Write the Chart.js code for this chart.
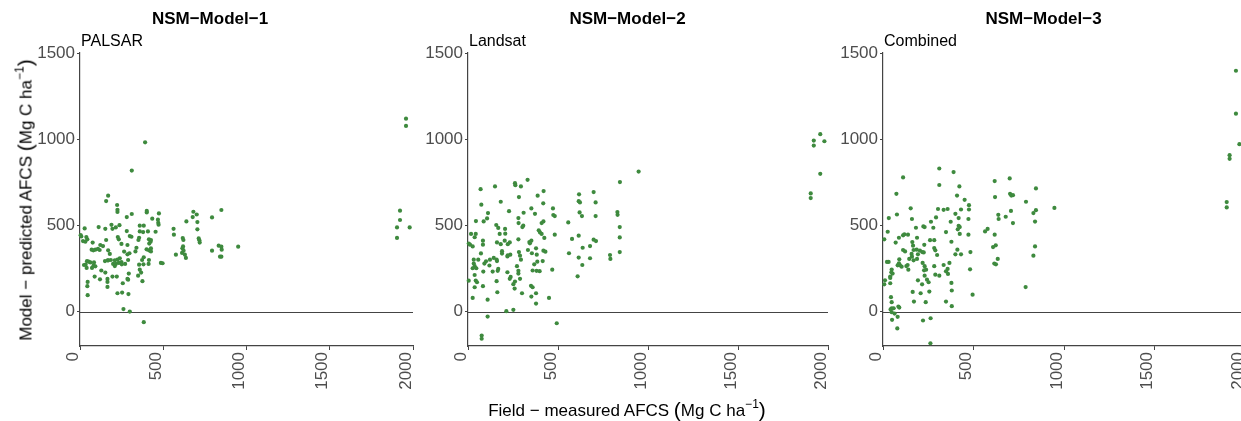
<!DOCTYPE html>
<html><head><meta charset="utf-8">
<script src="https://cdn.jsdelivr.net/npm/chart.js@4"></script>
<style>
html,body{margin:0;padding:0;width:1241px;height:421px;overflow:hidden;background:#fff;position:relative;}
canvas{position:absolute;top:0;}
.lab{position:absolute;font-family:'Liberation Sans',Arial,Helvetica,sans-serif;font-size:17px;color:#000;white-space:nowrap;line-height:22px;}
.lab .par{font-size:21px;position:relative;top:1px;}
.lab sup{font-size:12px;vertical-align:0;position:relative;top:-8px;}
#ytitle{left:26px;top:200px;transform:translate(-50%,-50%) rotate(-90deg);}
#xtitle{left:627px;top:398px;transform:translateX(-50%);}
</style></head><body>
<canvas id="c1" width="420" height="421" style="left:0px"></canvas>
<canvas id="c2" width="415" height="421" style="left:420px"></canvas>
<canvas id="c3" width="417" height="421" style="left:835px"></canvas>
<div class="lab" id="ytitle">Model − predicted AFCS <span class="par">(</span>Mg C ha<sup>−1</sup><span class="par">)</span></div>
<div class="lab" id="xtitle">Field − measured AFCS <span class="par">(</span>Mg C ha<sup>−1</sup><span class="par">)</span></div>
<script>
// ---- text / ticks ----
const panelTitles = ['NSM−Model−1', 'NSM−Model−2', 'NSM−Model−3'];
const panelSubtitles = ['PALSAR', 'Landsat', 'Combined'];
const xTicks = [0, 500, 1000, 1500, 2000];
const yTicks = [0, 500, 1000, 1500];
const xRange = [0, 2000];
const yRange = [-200, 1500];
const refLineValue = 0;

// ---- data: field-measured (x) vs model-predicted (y) ----
const p1X = [391,311,169,157,223,225,225,401,401,474,
 311,281,434,468,470,472,681,701,677,705,
 639,849,793,28,112,152,189,195,215,237,
 359,383,281,359,379,408,454,562,564,4,
 8,38,44,76,32,18,70,92,108,118,
 80,122,138,157,227,233,299,309,355,351,
 414,426,424,416,285,249,285,265,297,339,
 333,400,414,426,426,617,621,619,615,622,
 613,713,717,719,705,793,833,849,851,950,
 576,630,636,841,849,169,179,169,42,52,
 62,34,24,84,82,92,150,167,185,209,
 225,239,249,233,215,199,209,289,271,251,
 383,373,355,381,412,414,486,496,72,40,
 128,152,120,88,221,195,165,165,165,293,
 285,349,367,359,257,289,375,46,44,46,
 225,253,291,261,299,383,1922,1922,1904,1980,
 1904,1958,1958];
const p1Y = [982,818,672,641,618,590,578,584,575,569,
 566,548,539,533,515,504,579,563,548,519,
 523,589,546,482,490,480,503,480,488,501,
 498,498,467,465,461,465,463,480,446,443,
 436,432,419,400,405,409,359,359,363,357,
 355,386,380,415,432,419,438,434,428,415,
 419,415,405,394,386,392,332,348,338,370,
 349,361,355,366,349,426,415,378,367,353,
 340,424,413,400,477,353,382,376,359,376,
 330,330,311,318,318,355,334,297,292,289,
 285,272,270,285,268,262,293,297,299,297,
 301,309,287,282,276,276,264,299,276,274,
 315,299,272,274,276,299,282,280,253,253,
 238,226,187,203,203,203,189,172,143,220,
 189,208,226,243,164,185,176,172,147,95,
 106,110,101,14,0,-62,585,531,488,488,
 427,1119,1077];

const p2X = [948,844,331,261,263,294,150,70,420,283,
 387,182,74,617,615,622,698,709,418,472,
 352,309,474,482,372,228,111,106,44,87,
 620,633,709,830,831,557,280,281,307,302,
 157,168,206,176,207,17,43,37,419,409,
 393,400,409,482,424,352,341,344,280,232,
 221,204,182,161,578,615,637,678,698,711,
 843,843,843,789,791,678,615,635,561,609,
 4,11,83,83,72,26,32,32,37,46,
 26,37,57,100,91,85,122,143,159,161,
 119,189,189,221,235,219,283,289,294,333,
 355,378,382,419,430,415,385,368,168,137,
 165,159,163,219,237,232,261,280,272,280,
 289,359,381,398,468,43,50,37,83,252,
 259,300,350,359,352,378,378,450,26,109,
 213,252,109,493,76,76,4,1957,1921,1980,
 1921,1957,1904,1904];
const p2Y = [812,751,764,745,733,726,726,710,699,664,
 672,637,620,680,640,633,693,633,628,598,
 598,573,560,554,567,582,571,540,525,523,
 575,554,554,577,561,517,542,513,498,490,
 502,485,479,450,452,450,450,431,523,513,
 471,459,450,446,427,411,403,396,419,401,
 391,411,391,401,421,440,370,380,417,409,
 490,430,345,328,305,309,313,270,338,204,
 394,388,411,388,337,378,301,278,263,251,
 251,212,301,291,278,232,301,311,301,293,
 267,336,350,326,330,320,345,324,301,357,
 338,367,330,353,347,293,289,274,247,232,
 236,176,112,228,201,190,174,220,263,236,
 190,238,236,234,243,180,170,141,147,159,
 133,106,149,141,87,106,46,79,79,69,
 2,10,-29,-68,-139,-158,179,1029,992,988,
 963,799,685,658];

const p3X = [311,390,111,311,617,700,422,74,409,451,
 702,709,718,619,845,790,947,153,304,335,
 357,431,475,475,400,418,472,77,32,160,
 293,265,637,639,678,707,718,845,831,840,
 223,230,182,278,374,348,418,424,413,424,
 564,578,617,26,7,88,111,118,138,70,
 188,228,260,283,162,166,169,186,204,217,
 225,111,122,193,158,188,160,145,283,289,
 299,335,367,378,400,411,431,483,481,472,
 608,623,634,615,624,840,831,22,31,90,
 94,103,129,136,140,48,46,53,40,11,
 40,7,40,88,81,169,219,230,238,227,
 230,193,216,243,252,283,289,311,348,357,
 359,378,380,380,164,171,208,236,256,348,
 495,788,44,48,48,48,42,59,64,50,
 85,90,81,79,221,263,262,1950,1950,1969,
 1915,1915,1899,1899];
const p3Y = [830,809,778,734,757,772,726,683,673,648,
 683,673,675,664,714,637,601,599,595,590,
 595,592,617,592,567,542,537,563,542,537,
 546,521,561,537,550,584,513,588,571,522,
 494,490,486,486,521,461,497,490,477,450,
 465,479,446,463,419,428,442,448,446,400,
 428,387,414,414,403,382,357,359,353,345,
 343,357,349,332,334,305,318,305,368,355,
 328,270,282,405,332,359,332,345,245,446,
 374,384,305,278,274,378,324,288,288,303,
 268,260,264,270,243,244,228,220,195,181,
 164,158,203,280,268,297,282,263,243,239,
 208,181,158,185,170,263,214,208,233,247,
 218,166,122,31,114,58,106,54,116,58,
 98,142,83,54,19,-4,12,19,-12,-48,
 29,23,-31,-98,-52,-39,-184,1397,1148,971,
 907,886,635,604];

const panelData = [[p1X, p1Y], [p2X, p2Y], [p3X, p3Y]];

// ---- layout / style ----
const FONT = "'Liberation Sans', Arial, Helvetica, sans-serif";
const axisWidths = [80, 48, 48];
const AXIS_COLOR = '#444444';
const TICK_COLOR = '#4d4d4d';
const POINT_COLOR = '#3e8a3e';

const deco = {
  id: 'deco',
  beforeDatasetsDraw(chart) {
    const { ctx, chartArea, scales } = chart;
    const py = Math.round(scales.y.getPixelForValue(refLineValue)) + 0.5;
    ctx.save();
    ctx.strokeStyle = AXIS_COLOR;
    ctx.lineWidth = 1.2;
    ctx.beginPath();
    ctx.moveTo(chartArea.left, py);
    ctx.lineTo(chartArea.right, py);
    ctx.stroke();
    ctx.restore();
  },
  afterDraw(chart, args, opts) {
    const { ctx, chartArea } = chart;
    ctx.save();
    ctx.fillStyle = '#000';
    ctx.textBaseline = 'alphabetic';
    ctx.font = 'bold 17px ' + FONT;
    ctx.textAlign = 'center';
    ctx.fillText(opts.title, chart.width / 2, 24);
    ctx.font = '16px ' + FONT;
    ctx.textAlign = 'left';
    ctx.fillText(opts.subtitle, chartArea.left + 1, 46);
    ctx.restore();
  }
};

const plainLabel = v => String(v);

['c1', 'c2', 'c3'].forEach((id, i) => {
  const [xs, ys] = panelData[i];
  const n = Math.min(xs.length, ys.length);
  const pts = [];
  for (let k = 0; k < n; k++) pts.push({ x: xs[k], y: ys[k] });
  new Chart(document.getElementById(id), {
    type: 'scatter',
    data: {
      datasets: [{
        data: pts,
        pointRadius: 2.1,
        pointBorderWidth: 0,
        pointBackgroundColor: POINT_COLOR,
        pointBorderColor: POINT_COLOR,
        showLine: false,
        clip: false
      }]
    },
    options: {
      responsive: false,
      animation: false,
      events: [],
      layout: { padding: { top: 53, right: 7, left: 0, bottom: 0 } },
      plugins: {
        legend: { display: false },
        tooltip: { enabled: false },
        title: { display: false },
        deco: { title: panelTitles[i], subtitle: panelSubtitles[i] }
      },
      scales: {
        x: {
          type: 'linear',
          min: xRange[0], max: xRange[1],
          afterBuildTicks: s => { s.ticks = xTicks.map(v => ({ value: v })); },
          afterFit: s => { s.height = 75; s.paddingLeft = 0; s.paddingRight = 0; },
          grid: { display: true, drawOnChartArea: false, drawTicks: true, tickLength: 4, color: AXIS_COLOR, lineWidth: 1 },
          border: { display: true, color: AXIS_COLOR, width: 1.2 },
          ticks: {
            minRotation: 90, maxRotation: 90, autoSkip: false,
            color: TICK_COLOR, font: { size: 17, family: FONT },
            padding: 2, labelOffset: -7, callback: plainLabel
          }
        },
        y: {
          type: 'linear',
          min: yRange[0], max: yRange[1],
          afterBuildTicks: s => { s.ticks = yTicks.map(v => ({ value: v })); },
          afterFit: s => { s.width = axisWidths[i]; s.paddingTop = 0; s.paddingBottom = 0; },
          grid: { display: true, drawOnChartArea: false, drawTicks: true, tickLength: 3, color: AXIS_COLOR, lineWidth: 1 },
          border: { display: true, color: AXIS_COLOR, width: 1.2 },
          ticks: { color: TICK_COLOR, font: { size: 17, family: FONT }, padding: 2, callback: plainLabel }
        }
      }
    },
    plugins: [deco]
  });
});
</script>
</body></html>
